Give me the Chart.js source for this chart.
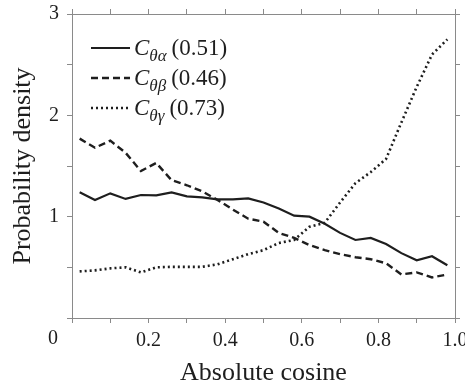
<!DOCTYPE html>
<html>
<head>
<meta charset="utf-8">
<script src="https://cdn.jsdelivr.net/npm/chart.js@4"></script>
<style>
    html, body { margin: 0; padding: 0; background: #fff; }
    #wrap { width: 465px; height: 389px; }
</style>
</head>
<body>
<div id="wrap"><canvas id="densityChart"></canvas></div>
<script>
// Data
const cosines = [0.02, 0.06, 0.10, 0.14, 0.18, 0.22, 0.26, 0.30, 0.34, 0.38, 0.42, 0.46, 0.50,
                 0.54, 0.58, 0.62, 0.66, 0.70, 0.74, 0.78, 0.82, 0.86, 0.90, 0.94, 0.98];
const alphaDensity = [1.24, 1.165, 1.23, 1.175, 1.214, 1.21, 1.24, 1.20, 1.19, 1.17, 1.17, 1.18, 1.14,
                      1.08, 1.01, 1.00, 0.93, 0.84, 0.77, 0.79, 0.73, 0.64, 0.57, 0.61, 0.52];
const betaDensity = [1.77, 1.68, 1.75, 1.63, 1.45, 1.53, 1.36, 1.31, 1.25, 1.165, 1.07, 0.98, 0.95,
                     0.84, 0.79, 0.72, 0.67, 0.63, 0.60, 0.58, 0.54, 0.43, 0.45, 0.40, 0.43];
const gammaDensity = [0.46, 0.47, 0.49, 0.50, 0.45, 0.50, 0.505, 0.505, 0.505, 0.53, 0.58, 0.63, 0.67,
                      0.74, 0.77, 0.90, 0.94, 1.14, 1.33, 1.44, 1.57, 1.93, 2.28, 2.60, 2.75];
const seriesSubs = ['θα', 'θβ', 'θγ'];
const seriesCorr = ['(0.51)', '(0.46)', '(0.73)'];
const xTickLabels = ['0.2', '0.4', '0.6', '0.8', '1.0'];
const yTickLabels = ['1', '2', '3'];

const SERIF = "'Liberation Serif', 'Times New Roman', serif";
const INK = '#1e1e1e';
const AXIS = '#8a8a8a';

function points(ys) {
    return cosines.map((x, i) => ({ x: x, y: ys[i] }));
}

// Custom legend with subscripts, plus the offset "0" on the x axis
const figureExtras = {
    id: 'figureExtras',
    afterDraw(chart) {
        const ctx = chart.ctx;
        const xs = chart.scales.x;
        ctx.save();
        ctx.fillStyle = INK;
        ctx.font = '20px ' + SERIF;
        ctx.textAlign = 'center';
        ctx.textBaseline = 'top';
        ctx.fillText('0', xs.getPixelForValue(0) - 19, xs.top + 11);

        chart.data.datasets.forEach((ds, i) => {
            const base = 55 + i * 30;
            ctx.beginPath();
            ctx.setLineDash(ds.borderDash || []);
            ctx.lineWidth = ds.borderWidth;
            ctx.strokeStyle = ds.borderColor;
            ctx.moveTo(91, base - 7);
            ctx.lineTo(130, base - 7);
            ctx.stroke();
            ctx.setLineDash([]);

            ctx.textAlign = 'left';
            ctx.textBaseline = 'alphabetic';
            ctx.font = 'italic 23px ' + SERIF;
            ctx.fillText('C', 134, base);
            const cw = ctx.measureText('C').width;
            ctx.font = 'italic 17px ' + SERIF;
            ctx.fillText(seriesSubs[i], 134 + cw, base + 6);
            const sw = ctx.measureText(seriesSubs[i]).width;
            ctx.font = '23px ' + SERIF;
            ctx.fillText(seriesCorr[i], 134 + cw + sw + 5, base);
        });
        ctx.restore();
    }
};

// keep the plot box fixed: no extra room for overhanging tick labels
function noOverhang(s) {
    s.paddingLeft = 0;
    s.paddingRight = 0;
    s.paddingTop = 0;
    s.paddingBottom = 0;
}

document.addEventListener('DOMContentLoaded', function() {
    const canvas = document.getElementById('densityChart');

    new Chart(canvas, {
        type: 'line',
        data: {
            datasets: [{
                label: 'C θα (0.51)',
                data: points(alphaDensity),
                borderColor: INK,
                borderWidth: 2.2,
                pointRadius: 0,
                tension: 0
            }, {
                label: 'C θβ (0.46)',
                data: points(betaDensity),
                borderColor: INK,
                borderWidth: 2.4,
                borderDash: [7, 4],
                pointRadius: 0,
                tension: 0
            }, {
                label: 'C θγ (0.73)',
                data: points(gammaDensity),
                borderColor: INK,
                borderWidth: 2.6,
                borderDash: [2, 3],
                pointRadius: 0,
                tension: 0
            }]
        },
        options: {
            responsive: true,
            maintainAspectRatio: false,
            animation: false,
            layout: { padding: { left: 0, top: 14, right: 10, bottom: 0 } },
            plugins: {
                legend: { display: false },
                tooltip: { enabled: false }
            },
            scales: {
                x: {
                    type: 'linear',
                    position: 'bottom',
                    min: 0,
                    max: 1,
                    afterFit: s => { s.height = 71; noOverhang(s); },
                    border: { color: AXIS, width: 1 },
                    grid: { drawOnChartArea: false, tickLength: 5, color: AXIS },
                    ticks: {
                        stepSize: 0.1,
                        autoSkip: false,
                        maxRotation: 0,
                        padding: 6,
                        color: INK,
                        font: { family: SERIF, size: 20 },
                        callback: (v) => {
                            const k = Math.round(v * 10);
                            return (k > 0 && k % 2 === 0) ? xTickLabels[k / 2 - 1] : '';
                        }
                    },
                    title: {
                        display: true,
                        text: 'Absolute cosine',
                        color: INK,
                        font: { family: SERIF, size: 26 },
                        padding: { top: 0, bottom: 0 }
                    }
                },
                xTop: {
                    type: 'linear',
                    position: 'top',
                    min: 0,
                    max: 1,
                    afterFit: s => { s.height = 0; noOverhang(s); },
                    border: { color: AXIS, width: 1 },
                    grid: { drawOnChartArea: false, tickLength: 5, color: AXIS },
                    ticks: { stepSize: 0.1, autoSkip: false, callback: () => '' }
                },
                y: {
                    type: 'linear',
                    position: 'left',
                    min: 0,
                    max: 3,
                    afterFit: s => { s.width = 72; noOverhang(s); },
                    border: { color: AXIS, width: 1 },
                    grid: { drawOnChartArea: false, tickLength: 5, color: AXIS },
                    ticks: {
                        stepSize: 0.5,
                        padding: 8,
                        color: INK,
                        font: { family: SERIF, size: 20 },
                        callback: (v) => {
                            const k = Math.round(v * 2);
                            return (k > 0 && k % 2 === 0) ? yTickLabels[k / 2 - 1] : '';
                        }
                    },
                    title: {
                        display: true,
                        text: 'Probability density',
                        color: INK,
                        font: { family: SERIF, size: 26 },
                        padding: { top: 8, bottom: 0 }
                    }
                },
                yRight: {
                    type: 'linear',
                    position: 'right',
                    min: 0,
                    max: 3,
                    afterFit: s => { s.width = 0; noOverhang(s); },
                    border: { color: AXIS, width: 1 },
                    grid: { drawOnChartArea: false, tickLength: 5, color: AXIS },
                    ticks: { stepSize: 0.5, callback: () => '' }
                }
            }
        },
        plugins: [figureExtras]
    });
});
</script>
</body>
</html>
